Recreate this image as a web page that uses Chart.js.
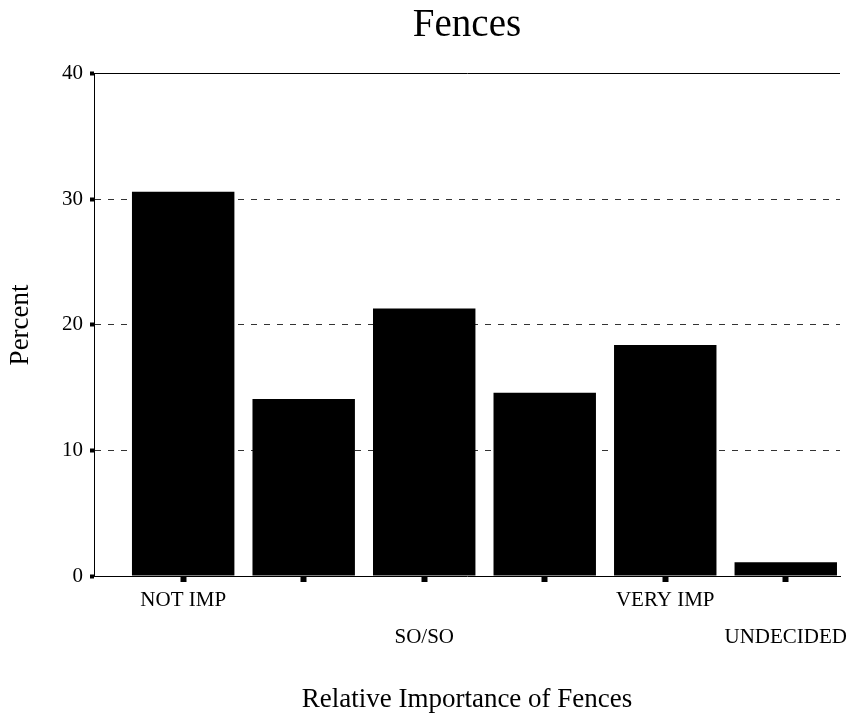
<!DOCTYPE html>
<html>
<head>
<meta charset="utf-8">
<script src="https://cdn.jsdelivr.net/npm/chart.js@4"></script>
<style>
  body { margin: 0; background: #fff; }
</style>
</head>
<body>
<canvas id="fencesChart" width="865" height="723"></canvas>
<script>
const categories = ["NOT IMP", "", "SO/SO", "", "VERY IMP", "UNDECIDED"];
const percents = [30.6, 14.1, 21.3, 14.6, 18.4, 1.1];
const yTicks = [0, 10, 20, 30, 40];

const serif = "'Liberation Serif', 'Times New Roman', serif";

// labels alternate between two rows, like the original
function tickLabel(i) {
    const name = categories[i];
    if (!name) return "";
    const n = categories.slice(0, i).filter(c => c).length;
    return n % 2 === 0 ? [name] : ["", name];
}

new Chart(document.getElementById("fencesChart"), {
    type: "bar",
    data: {
        datasets: [{
            data: percents.map((v, i) => ({ x: i, y: v })),
            backgroundColor: "#000",
            borderWidth: 0,
            categoryPercentage: 1,
            barPercentage: 0.85
        }]
    },
    options: {
        responsive: false,
        animation: false,
        layout: { padding: { left: 0, right: 25, top: 0, bottom: 0 } },
        plugins: {
            legend: { display: false },
            tooltip: { enabled: false },
            title: {
                display: true,
                fullSize: false,
                text: "Fences",
                color: "#000",
                font: { family: serif, size: 39, weight: "normal", lineHeight: 1.2 },
                padding: { top: 2, bottom: 25 }
            }
        },
        scales: {
            x: {
                type: "linear",
                offset: false,
                min: -0.74,
                max: 5.45,
                bounds: "data",
                afterBuildTicks: scale => {
                    scale.ticks = categories.map((c, i) => ({ value: i }));
                },
                afterFit: scale => { scale.height = 147; },
                grid: {
                    offset: false,
                    drawOnChartArea: false,
                    drawTicks: true,
                    tickLength: 6,
                    tickWidth: 6,
                    tickColor: "#000",
                    color: "#000"
                },
                border: { display: true, color: "#000", width: 1 },
                ticks: {
                    autoSkip: false,
                    maxRotation: 0,
                    padding: 0,
                    color: "#000",
                    font: { family: serif, size: 21, lineHeight: "37px" },
                    callback: (value, index) => tickLabel(index)
                },
                title: {
                    display: true,
                    text: "Relative Importance of Fences",
                    color: "#000",
                    font: { family: serif, size: 27, lineHeight: 1.2 },
                    padding: { top: 0, bottom: 7 }
                }
            },
            y: {
                min: 0,
                max: 40,
                afterBuildTicks: scale => {
                    scale.ticks = yTicks.map(v => ({ value: v }));
                },
                afterFit: scale => { scale.width = 94; },
                grid: {
                    color: ctx => ctx.tick && ctx.tick.value === 0 ? "rgba(0,0,0,0)"
                        : (ctx.tick && ctx.tick.value === 40 ? "#000" : "#333"),
                    lineWidth: 1,
                    tickLength: 4,
                    tickWidth: 4,
                    tickColor: "#000"
                },
                border: {
                    display: true,
                    color: "#000",
                    width: 1,
                    dash: ctx => ctx.tick && ctx.tick.value === 40 ? [] : [6, 7]
                },
                ticks: {
                    padding: 7,
                    color: "#000",
                    font: { family: serif, size: 21 }
                },
                title: {
                    display: true,
                    text: "Percent",
                    color: "#000",
                    font: { family: serif, size: 27, lineHeight: 1.2 },
                    padding: { top: 5, bottom: 0 }
                }
            }
        }
    }
});
</script>
</body>
</html>
